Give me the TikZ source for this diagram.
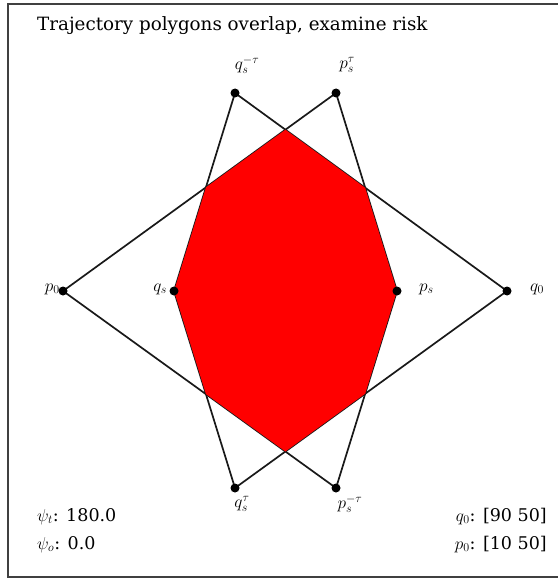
\documentclass[tikz,border=0pt]{standalone}
\usepackage{fontspec}
\setmainfont{DejaVu Serif}
\begin{document}
\begin{tikzpicture}[x=1pt,y=-1pt,
  dot/.style={circle,fill=black,inner sep=0pt,minimum size=9pt},
  edge/.style={draw=black!90,line width=1.7pt,line join=miter},
  lbl/.style={inner sep=0pt,font=\fontsize{18}{20}\selectfont},
  txt/.style={inner sep=0pt,font=\fontsize{17.5}{20}\selectfont}]
\useasboundingbox (0,0) rectangle (557,580);
\draw[line width=1.5pt, black!75] (565,4) -- (8,4) -- (8,577) -- (565,577);
% points
\coordinate (p0)  at (63,291);
\coordinate (q0)  at (507,291);
\coordinate (qs)  at (174,291);
\coordinate (ps)  at (397,291);
\coordinate (qsm) at (235,93);
\coordinate (pst) at (336,93);
\coordinate (qst) at (235,488);
\coordinate (psm) at (336,488);
% polygons
\draw[edge] (p0) -- (pst) -- (ps) -- (psm) -- cycle;
\draw[edge] (q0) -- (qsm) -- (qs) -- (qst) -- cycle;
\begin{scope}
  \clip (p0) -- (pst) -- (ps) -- (psm) -- cycle;
  \fill[red] (q0) -- (qsm) -- (qs) -- (qst) -- cycle;
\end{scope}
% dots
\foreach \c in {p0,q0,qs,ps,qsm,pst,qst,psm}
  \node[dot] (d\c) at (\c) {};
% labels
\node[lbl] (lqsm) at (247,65) {$q_s^{-\tau}$};
\node[lbl] (lpst) at (347,65) {$p_s^{\tau}$};
\node[lbl] (lqst) at (242,504) {$q_s^{\tau}$};
\node[lbl] (lpsm) at (350,504) {$p_s^{-\tau}$};
\node[lbl,anchor=east] (lp0) at (60,289) {$p_0$};
\node[lbl,anchor=east] (lqs) at (167,289) {$q_s$};
\node[lbl,anchor=west] (lps) at (419,289) {$p_s$};
\node[lbl,anchor=west] (lq0) at (530,289) {$q_0$};
% texts
\node[txt,anchor=base west,font=\fontsize{18.3}{20}\selectfont] (title) at (37,31) {Trajectory polygons overlap, examine risk};
\node[txt,anchor=base west] (psit) at (37,521) {$\psi_t$: 180.0};
\node[txt,anchor=base west] (psio) at (37,549) {$\psi_o$: 0.0};
\node[txt,anchor=base east] (q0t) at (547,521) {$q_0$: [90 50]};
\node[txt,anchor=base east] (p0t) at (547,549) {$p_0$: [10 50]};
\end{tikzpicture}
\end{document}
